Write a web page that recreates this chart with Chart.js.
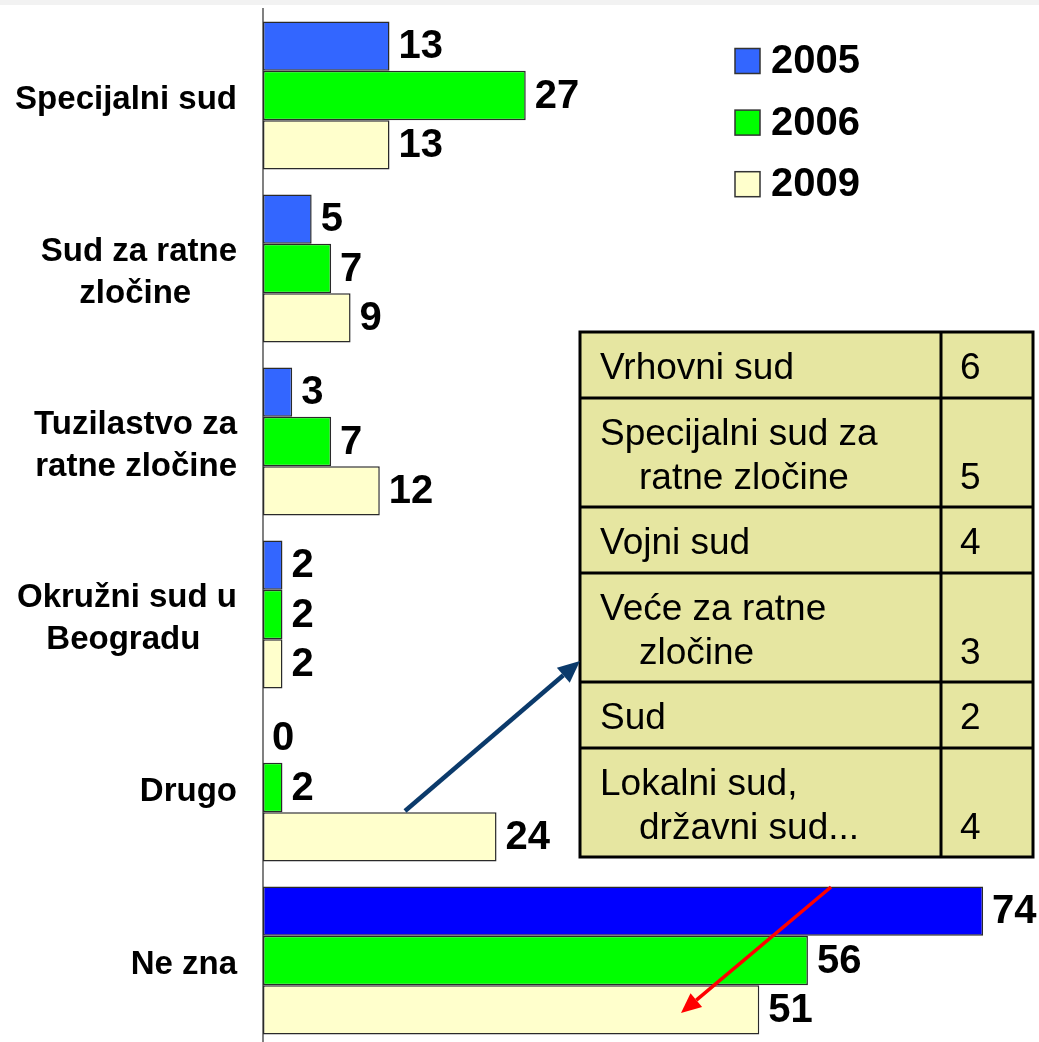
<!DOCTYPE html>
<html>
<head>
<meta charset="utf-8">
<script src="https://cdn.jsdelivr.net/npm/chart.js@4"></script>
<style>
  html, body { margin: 0; padding: 0; background: #fff; overflow: hidden; }
  #wrap { width: 1039px; height: 1042px; overflow: hidden; }
</style>
</head>
<body>
<div id="wrap"><canvas id="courtChart" width="1039" height="1048"></canvas></div>
<script>
// categories (second lines padded so they sit centred under the first line)
const categories = [
    'Specijalni sud',
    ['Sud za ratne', 'zločine     '],
    ['Tuzilastvo za', 'ratne zločine'],
    ['Okružni sud u', 'Beogradu    '],
    'Drugo',
    'Ne zna'
];
const years = ['2005', '2006', '2009'];
const values2005 = [13, 5, 3, 2, 0, 74];
const values2006 = [27, 7, 7, 2, 2, 56];
const values2009 = [13, 9, 12, 2, 24, 51];

// inset table – breakdown of "Drugo"
const otherCourts = [
    ['Vrhovni sud'],
    ['Specijalni sud za', 'ratne zločine'],
    ['Vojni sud'],
    ['Veće za ratne', 'zločine'],
    ['Sud'],
    ['Lokalni sud,', 'državni sud...']
];
const otherCounts = [6, 5, 4, 3, 2, 4];

const FONT = "'Liberation Sans', Arial, sans-serif";
Chart.defaults.font.family = FONT;

function drawArrow(ctx, x1, y1, x2, y2, color, width, head) {
    const a = Math.atan2(y2 - y1, x2 - x1);
    const bx = x2 - head * Math.cos(a), by = y2 - head * Math.sin(a);
    ctx.save();
    ctx.strokeStyle = color;
    ctx.fillStyle = color;
    ctx.lineWidth = width;
    ctx.beginPath();
    ctx.moveTo(x1, y1);
    ctx.lineTo(bx, by);
    ctx.stroke();
    ctx.beginPath();
    ctx.moveTo(x2, y2);
    ctx.lineTo(bx + head * 0.45 * Math.sin(a), by - head * 0.45 * Math.cos(a));
    ctx.lineTo(bx - head * 0.45 * Math.sin(a), by + head * 0.45 * Math.cos(a));
    ctx.closePath();
    ctx.fill();
    ctx.restore();
}

const decorPlugin = {
    id: 'decor',
    beforeDraw(chart) {
        const ctx = chart.ctx;
        ctx.save();
        ctx.fillStyle = '#ffffff';
        ctx.fillRect(0, 0, chart.width, chart.height);
        ctx.fillStyle = '#f2f2f2';
        ctx.fillRect(0, 0, chart.width, 5);
        ctx.restore();
    },
    afterDatasetsDraw(chart) {
        const ctx = chart.ctx;
        ctx.save();
        ctx.font = 'bold 40px ' + FONT;
        ctx.fillStyle = '#000';
        ctx.textBaseline = 'middle';
        ctx.textAlign = 'left';
        chart.data.datasets.forEach((ds, i) => {
            chart.getDatasetMeta(i).data.forEach((bar, j) => {
                ctx.fillText(String(ds.data[j]), bar.x + 9, bar.y + 1);
            });
        });

        // legend
        chart.data.datasets.forEach((ds, i) => {
            const cy = 61 + i * 61.6;
            ctx.fillStyle = ds.legendColor;
            ctx.fillRect(735, cy - 12.5, 25, 25);
            ctx.strokeStyle = '#333';
            ctx.lineWidth = 1.5;
            ctx.strokeRect(735, cy - 12.5, 25, 25);
            ctx.fillStyle = '#000';
            ctx.fillText(ds.label, 771, cy + 1);
        });
        ctx.restore();
    },
    afterDraw(chart) {
        const ctx = chart.ctx;
        const left = 580, right = 1033, divider = 941;
        let top = 332;
        ctx.save();
        const rows = otherCourts.map(lines => 66 + 43 * (lines.length - 1));
        const total = rows.reduce((a, b) => a + b, 0);
        ctx.fillStyle = '#e6e6a1';
        ctx.fillRect(left, top, right - left, total);
        ctx.strokeStyle = '#000';
        ctx.lineWidth = 3;
        ctx.font = '37px ' + FONT;
        ctx.fillStyle = '#000';
        ctx.textBaseline = 'alphabetic';
        otherCourts.forEach((lines, i) => {
            lines.forEach((ln, k) => {
                ctx.fillText(ln, k === 0 ? 600 : 639, top + 47 + k * 44);
            });
            ctx.fillText(String(otherCounts[i]), 960, top + 47 + (lines.length - 1) * 44);
            top += rows[i];
            if (i < otherCourts.length - 1) {
                ctx.beginPath();
                ctx.moveTo(left, top);
                ctx.lineTo(right, top);
                ctx.stroke();
            }
        });
        ctx.strokeRect(left, 332, right - left, total);
        ctx.beginPath();
        ctx.moveTo(divider, 332);
        ctx.lineTo(divider, 332 + total);
        ctx.stroke();

        drawArrow(ctx, 405, 811, 580, 661, '#0b3a6b', 4.5, 22);
        drawArrow(ctx, 831, 887, 681, 1013, '#ff0000', 3.5, 20);
        ctx.restore();
    }
};

new Chart(document.getElementById('courtChart'), {
    type: 'bar',
    data: {
        labels: categories,
        datasets: [
            {
                label: years[0],
                data: values2005,
                backgroundColor: ['#3366ff', '#3366ff', '#3366ff', '#3366ff', '#3366ff', '#0000ff'],
                legendColor: '#3366ff'
            },
            { label: years[1], data: values2006, backgroundColor: '#00ff00', legendColor: '#00ff00' },
            { label: years[2], data: values2009, backgroundColor: '#ffffcc', legendColor: '#ffffcc' }
        ].map(d => Object.assign(d, {
            borderColor: '#2a2a2a',
            borderWidth: 1.5,
            borderSkipped: false,
            categoryPercentage: 0.855,
            barPercentage: 1
        }))
    },
    options: {
        indexAxis: 'y',
        responsive: false,
        animation: false,
        layout: { padding: { top: 9, bottom: 1, left: 0, right: 17 } },
        plugins: {
            legend: { display: false },
            tooltip: { enabled: false }
        },
        scales: {
            x: { display: false, min: 0, max: 78 },
            y: {
                grid: { display: false, drawTicks: false },
                border: { display: true, color: '#808080', width: 2 },
                ticks: {
                    autoSkip: false,
                    color: '#000',
                    padding: 26,
                    labelOffset: 4,
                    font: { size: 33, weight: 'bold', lineHeight: 1.27 }
                },
                afterFit(scale) {
                    scale.width = 263;
                    scale.paddingTop = 0;
                    scale.paddingBottom = 0;
                }
            }
        }
    },
    plugins: [decorPlugin]
});
</script>
</body>
</html>
